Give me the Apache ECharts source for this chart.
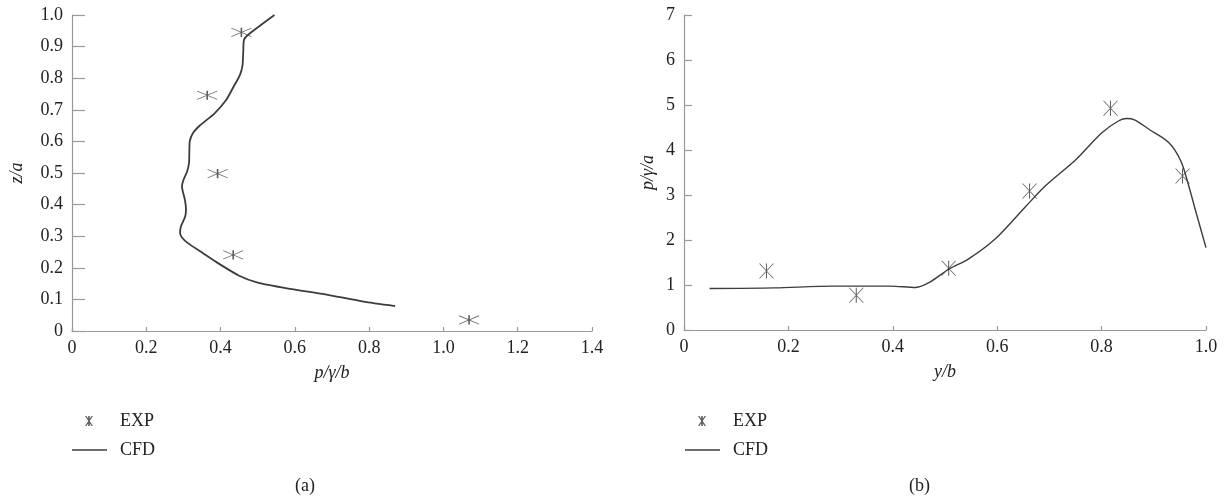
<!DOCTYPE html>
<html>
<head>
<meta charset="utf-8">
<style>html,body{margin:0;padding:0;background:#fff;}#c{width:1227px;height:504px;}</style>
<script src="https://cdn.jsdelivr.net/npm/echarts@6/dist/echarts.min.js"></script>
</head>
<body>
<div id="c"></div>
<script>
// ---- Data (a) ----
var expA = [[0.456,0.945],[0.364,0.746],[0.392,0.498],[0.434,0.241],[1.069,0.035]];
var cfdA = [[0.870,0.079],[0.785,0.093],[0.682,0.116],[0.579,0.135],[0.500,0.153],[0.450,0.175],[0.394,0.214],[0.353,0.246],[0.312,0.278],[0.296,0.296],[0.291,0.309],[0.293,0.330],[0.304,0.360],[0.307,0.383],[0.304,0.415],[0.296,0.457],[0.300,0.478],[0.310,0.505],[0.315,0.531],[0.316,0.570],[0.317,0.600],[0.325,0.625],[0.345,0.651],[0.384,0.689],[0.415,0.731],[0.435,0.773],[0.452,0.810],[0.459,0.840],[0.461,0.880],[0.463,0.921],[0.476,0.939],[0.545,1.0]];
var xTicksA = [0,0.2,0.4,0.6,0.8,1.0,1.2,1.4];
var yTicksA = [0,0.1,0.2,0.3,0.4,0.5,0.6,0.7,0.8,0.9,1.0];
// ---- Data (b) ----
var expB = [[0.158,1.31],[0.330,0.775],[0.507,1.37],[0.662,3.09],[0.817,4.93],[0.955,3.42]];
var cfdB = [[0.049,0.923],[0.173,0.935],[0.284,0.975],[0.395,0.975],[0.444,0.945],[0.470,1.056],[0.507,1.35],[0.544,1.57],[0.596,2.02],[0.655,2.75],[0.692,3.20],[0.751,3.79],[0.800,4.38],[0.833,4.65],[0.848,4.70],[0.863,4.67],[0.892,4.45],[0.929,4.16],[0.952,3.75],[0.967,3.20],[0.981,2.61],[1.0,1.83]];
var xTicksB = [0,0.2,0.4,0.6,0.8,1.0];
var yTicksB = [0,1,2,3,4,5,6,7];

var FONT = '"Liberation Serif","Times New Roman",serif';
var FS = 18;
var AX = '#999';
var LINE = '#3c3c3c';
var MARK = '#333';

// asterisk symbols (filled thin strokes)
var symA = 'path://M-10,-4.6L10,3.8L10,4.6L-10,-3.8Z M-10,3.8L10,-4.6L10,-3.8L-10,4.6Z M-0.8,-4.6L0.8,-4.6L0.8,4.6L-0.8,4.6Z';
var symB = 'path://M-7.5,-7.5L-6.5,-7.5L7.5,7.5L6.5,7.5Z M6.5,-7.5L7.5,-7.5L-6.5,7.5L-7.5,7.5Z M-0.5,-7.5L0.5,-7.5L0.5,7.5L-0.5,7.5Z';
var symLeg = 'path://M-4,-5L-2.6,-5L4,5L2.6,5Z M2.6,-5L4,-5L-2.6,5L-4,5Z M-0.8,-5L0.8,-5L0.8,5L-0.8,5Z';
var lineIcon = 'path://M0,0L35,0L35,1.3L0,1.3Z';

function fmt1(v){ return v === 0 ? '0' : v.toFixed(1); }

function xAxisCfg(gi, ticks, name, fmt){
  return {
    type:'value', gridIndex:gi, min:ticks[0], max:ticks[ticks.length-1], interval:ticks[1]-ticks[0],
    name:name, nameLocation:'middle', nameGap:33,
    nameTextStyle:{fontFamily:FONT, fontSize:FS, fontStyle:'italic', color:'#222'},
    axisLine:{show:true, lineStyle:{color:AX, width:1.2}},
    axisTick:{show:true, inside:true, length:4, lineStyle:{color:AX, width:1.2}},
    axisLabel:{fontFamily:FONT, fontSize:FS, color:'#222', margin:8, formatter:fmt, showMinLabel:true, showMaxLabel:true},
    splitLine:{show:false}
  };
}
function yAxisCfg(gi, ticks, name, fmt, gap, tickLen){
  return {
    type:'value', gridIndex:gi, min:ticks[0], max:ticks[ticks.length-1], interval:ticks[1]-ticks[0],
    name:name, nameLocation:'middle', nameGap:gap,
    nameTextStyle:{fontFamily:FONT, fontSize:FS, fontStyle:'italic', color:'#222'},
    axisLine:{show:true, lineStyle:{color:AX, width:1.2}},
    axisTick:{show:true, inside:true, length:tickLen, lineStyle:{color:AX, width:1.2}},
    axisLabel:{fontFamily:FONT, fontSize:FS, color:'#222', margin:9, formatter:fmt, showMinLabel:true, showMaxLabel:true},
    splitLine:{show:false}
  };
}
function legendCfg(left, top, name, icon, w, h, textPad){
  return {
    left:left, top:top, orient:'vertical', selectedMode:false, padding:0,
    itemWidth:w, itemHeight:h, symbolKeepAspect:true,
    data:[{name:name, icon:icon}],
    textStyle:{fontFamily:FONT, fontSize:FS, color:'#222', padding:[0,0,0,textPad]}
  };
}

var chart = echarts.init(document.getElementById('c'), null, {renderer:'canvas'});
chart.setOption({
  animation:false,
  backgroundColor:'#fff',
  grid:[
    {left:72, top:15, right:635, bottom:173},
    {left:684, top:15, right:21, bottom:174}
  ],
  xAxis:[
    xAxisCfg(0, xTicksA, 'p/γ/b', fmt1),
    xAxisCfg(1, xTicksB, 'y/b', fmt1)
  ],
  yAxis:[
    yAxisCfg(0, yTicksA, 'z/a', fmt1, 46, 13),
    yAxisCfg(1, yTicksB, 'p/γ/a', function(v){return String(v);}, 27, 8)
  ],
  legend:[
    legendCfg(85, 412, 'EXP', symLeg, 8, 10, 22),
    legendCfg(72, 441, 'CFD', lineIcon, 35, 10, 8),
    legendCfg(698, 412, 'EXP', symLeg, 8, 10, 22),
    legendCfg(685, 441, 'CFD', lineIcon, 35, 10, 8)
  ],
  graphic:[
    {type:'text', left:295, top:477, style:{text:'(a)', font:FS + 'px ' + FONT, fill:'#222'}},
    {type:'text', left:909, top:477, style:{text:'(b)', font:FS + 'px ' + FONT, fill:'#222'}}
  ],
  series:[
    {name:'CFD', type:'line', xAxisIndex:0, yAxisIndex:0, data:cfdA, showSymbol:false, smooth:0.2,
     color:LINE, lineStyle:{color:LINE, width:1.8}},
    {name:'EXP', type:'scatter', xAxisIndex:0, yAxisIndex:0, data:expA, symbol:symA, symbolSize:[20,9.2],
     color:MARK, itemStyle:{color:MARK}},
    {name:'CFD', type:'line', xAxisIndex:1, yAxisIndex:1, data:cfdB, showSymbol:false, smooth:0.3,
     color:LINE, lineStyle:{color:LINE, width:1.4}},
    {name:'EXP', type:'scatter', xAxisIndex:1, yAxisIndex:1, data:expB, symbol:symB, symbolSize:[15,15],
     color:MARK, itemStyle:{color:MARK}}
  ]
});
</script>
</body>
</html>
